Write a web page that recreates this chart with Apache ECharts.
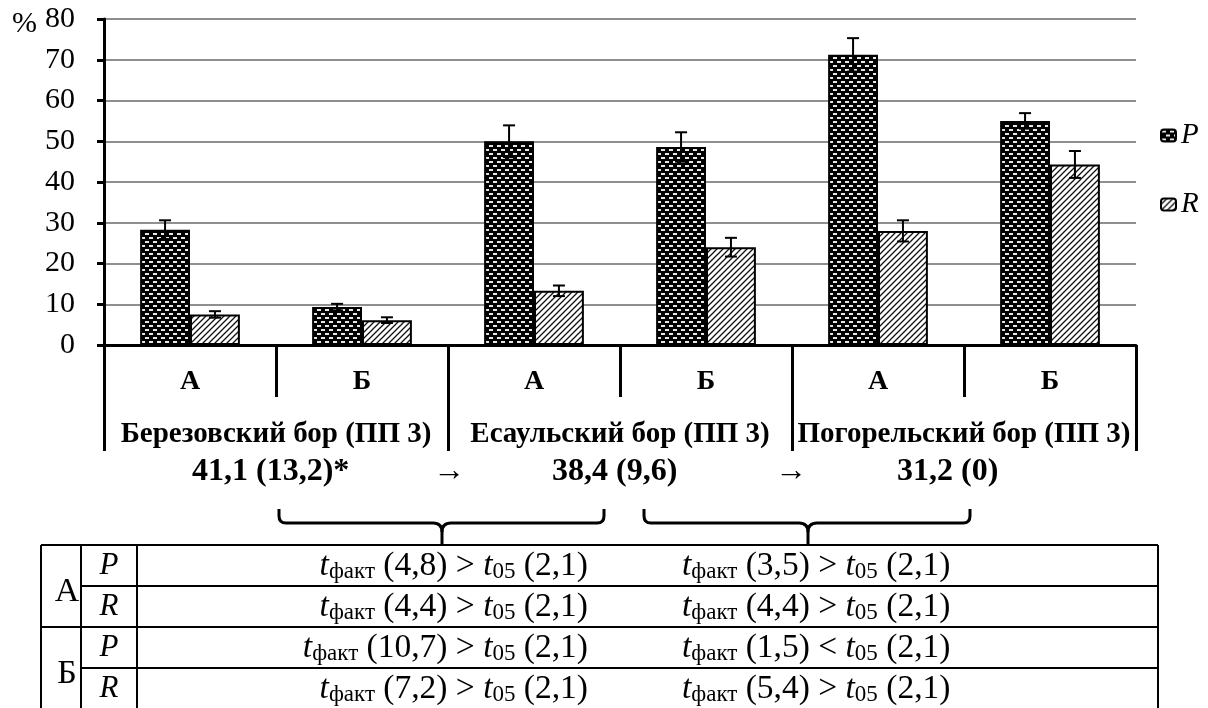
<!DOCTYPE html>
<html>
<head>
<meta charset="utf-8">
<script src="https://cdn.jsdelivr.net/npm/echarts@6/dist/echarts.min.js"></script>
<style>
  html, body { margin: 0; padding: 0; background: #fff; }
  #chart { width: 1208px; height: 708px; }
</style>
</head>
<body>
<div id="chart"></div>
<script>
// Sub-plot categories (lower tier of the x axis) and forest names (upper tier)
const subCategories = ['А', 'Б', 'А', 'Б', 'А', 'Б'];
const forests = ['Березовский бор (ПП 3)', 'Есаульский бор (ПП 3)', 'Погорельский бор (ПП 3)'];

// Series: P and R, percent, with their error half-widths
const seriesNames = ['P', 'R'];
const valuesP = [28.3, 9.3, 50.0, 48.6, 71.2, 55.0];
const errorsP = [2.3, 0.8, 3.9, 3.6, 4.1, 1.9];
const valuesR = [7.5, 6.1, 13.3, 24.0, 28.0, 44.3];
const errorsR = [0.8, 0.7, 1.3, 2.3, 2.6, 3.3];

// Value axis range
const yMin = 0, yMax = 80, yStep = 10;

// Mean values per forest and the arrows between them
const meanLabels = ['41,1 (13,2)*', '38,4 (9,6)', '31,2 (0)'];
const arrowLabel = '→';

// Student's t test table: rows А-P, А-R, Б-P, Б-R; two comparison columns
const tableGroups = ['А', 'Б'];
const tableRowSeries = ['P', 'R', 'P', 'R'];
const tFact = [
  ['4,8', '3,5'],
  ['4,4', '4,4'],
  ['10,7', '1,5'],
  ['7,2', '5,4']
];
const tSign = [
  ['>', '>'],
  ['>', '>'],
  ['>', '<'],
  ['>', '>']
];
const tCritical = '2,1';

const SERIF = '"Liberation Serif", "Times New Roman", serif';
const BAR_FRAC = 0.29;

// Fill patterns for the two series
function makePattern(kind) {
  const c = document.createElement('canvas');
  const g = c.getContext('2d');
  if (kind === 'P') {
    c.width = 8; c.height = 8;
    g.fillStyle = '#000';
    g.fillRect(0, 0, 8, 8);
    g.fillStyle = '#e8e8e8';
    g.fillRect(1, 1, 4, 2);
    g.fillRect(5, 5, 3, 2);
    g.fillRect(0, 5, 1, 2);
  } else {
    c.width = 6; c.height = 6;
    g.fillStyle = '#fff';
    g.fillRect(0, 0, 6, 6);
    g.strokeStyle = '#111';
    g.lineWidth = 1.3;
    g.beginPath();
    g.moveTo(-1, 7); g.lineTo(7, -1);
    g.moveTo(-4, 4); g.lineTo(4, -4);
    g.moveTo(2, 10); g.lineTo(10, 2);
    g.stroke();
  }
  return { image: c, repeat: 'repeat' };
}

function errorSeries(side, values, errors) {
  return {
    type: 'custom',
    name: seriesNames[side] + '-err',
    xAxisIndex: 0,
    z: 5,
    silent: true,
    data: values.map((v, i) => [i, v, errors[i]]),
    renderItem(params, api) {
      const i = api.value(0), v = api.value(1), e = api.value(2);
      const band = api.size([1, 0])[0];
      const off = (side === 0 ? -1 : 1) * band * BAR_FRAC / 2;
      const top = api.coord([i, v + e]);
      const bot = api.coord([i, v - e]);
      const cx = top[0] + off;
      const cap = 6;
      const st = { stroke: '#000', lineWidth: 2 };
      return {
        type: 'group',
        children: [
          { type: 'line', shape: { x1: cx, y1: top[1], x2: cx, y2: bot[1] }, style: st },
          { type: 'line', shape: { x1: cx - cap, y1: top[1], x2: cx + cap, y2: top[1] }, style: st },
          { type: 'line', shape: { x1: cx - cap, y1: bot[1], x2: cx + cap, y2: bot[1] }, style: st }
        ]
      };
    }
  };
}

// Curly brace opening upward with its tip pointing down, built from lines and curves
function braceElements(x1, x2, xm, yTop, yMid, yTip) {
  const r = 7, k = 9;
  const st = { stroke: '#000', lineWidth: 3, fill: null };
  const seg = (a, b, c, d) => ({ type: 'line', shape: { x1: a, y1: b, x2: c, y2: d }, style: st });
  const crv = (a, b, cx, cy, c, d) => ({
    type: 'bezierCurve', shape: { x1: a, y1: b, cpx1: cx, cpy1: cy, x2: c, y2: d }, style: st
  });
  return [
    seg(x1, yTop, x1, yMid - r),
    crv(x1, yMid - r, x1, yMid, x1 + r, yMid),
    seg(x1 + r, yMid, xm - k, yMid),
    crv(xm - k, yMid, xm, yMid, xm, yMid + k),
    seg(xm, yMid + k, xm, yTip),
    seg(x2, yTop, x2, yMid - r),
    crv(x2, yMid - r, x2, yMid, x2 - r, yMid),
    seg(x2 - r, yMid, xm + k, yMid),
    crv(xm + k, yMid, xm, yMid, xm, yMid + k)
  ];
}

function tText(r, c) {
  return '{i|t}{s|факт}{n| (' + tFact[r][c] + ') ' + tSign[r][c] + ' }{i|t}{s|05}{n| (' + tCritical + ')}';
}

const tRich = {
  i: { fontFamily: SERIF, fontSize: 33.5, fontStyle: 'italic', lineHeight: 38, verticalAlign: 'bottom', color: '#000' },
  n: { fontFamily: SERIF, fontSize: 33.5, lineHeight: 38, verticalAlign: 'bottom', color: '#000' },
  s: { fontFamily: SERIF, fontSize: 23, lineHeight: 30, verticalAlign: 'bottom', color: '#000' }
};

// Table geometry
const T = { left: 41, c1: 81, c2: 137, right: 1158, top: 545, rowH: 41, bottom: 712 };

const graphics = [];
// axis unit
graphics.push({ type: 'text', x: 12, y: 24, style: { text: '%', font: '30px ' + SERIF, fill: '#000', verticalAlign: 'middle' } });

// mean values row
const meanY = 472;
const meanItems = [
  [192, meanLabels[0]], [433, arrowLabel], [552, meanLabels[1]], [775, arrowLabel], [897, meanLabels[2]]
];
meanItems.forEach(([x, t]) => {
  graphics.push({
    type: 'text', x: x, y: meanY,
    style: { text: t, font: 'bold 32px ' + SERIF, fill: '#000', verticalAlign: 'middle', align: 'left' }
  });
});

// braces
braceElements(279, 604, 442, 509, 523, 545).forEach(e => graphics.push(e));
braceElements(644, 970, 808, 509, 523, 545).forEach(e => graphics.push(e));

// table lines
const lineSt = { stroke: '#000', lineWidth: 2 };
[0, 1, 2, 3].forEach(k => {
  const y = T.top + k * T.rowH;
  const x1 = (k % 2 === 0) ? T.left : T.c1;
  graphics.push({ type: 'line', shape: { x1: x1, y1: y, x2: T.right, y2: y }, style: lineSt });
});
[T.left, T.c1, T.c2, T.right].forEach(x => {
  graphics.push({ type: 'line', shape: { x1: x, y1: T.top, x2: x, y2: T.bottom }, style: lineSt });
});
// group letters
tableGroups.forEach((g, k) => {
  graphics.push({
    type: 'text', x: 67, y: T.top + (2 * k + 1) * T.rowH + 6,
    style: { text: g, font: '34px ' + SERIF, fill: '#000', align: 'center', verticalAlign: 'middle' }
  });
});
// rows
tableRowSeries.forEach((s, r) => {
  const yc = T.top + r * T.rowH + T.rowH / 2;
  graphics.push({
    type: 'text', x: 109, y: yc,
    style: { text: s, font: 'italic 31px ' + SERIF, fill: '#000', align: 'center', verticalAlign: 'middle' }
  });
  graphics.push({
    type: 'text', x: 588, y: yc - 1,
    style: { text: tText(r, 0), rich: tRich, align: 'right', verticalAlign: 'middle' }
  });
  graphics.push({
    type: 'text', x: 682, y: yc - 1,
    style: { text: tText(r, 1), rich: tRich, align: 'left', verticalAlign: 'middle' }
  });
});

const chart = echarts.init(document.getElementById('chart'), null, { renderer: 'canvas' });
chart.setOption({
  animation: false,
  backgroundColor: '#fff',
  grid: { left: 104, right: 72, top: 19, bottom: 363, containLabel: false },
  legend: {
    data: seriesNames,
    orient: 'vertical',
    left: 1155,
    top: 116,
    itemWidth: 15,
    itemHeight: 12,
    itemGap: 40,
    selectedMode: false,
    textStyle: { fontFamily: SERIF, fontSize: 29, fontStyle: 'italic', color: '#000' }
  },
  xAxis: [
    {
      type: 'category',
      data: subCategories,
      position: 'bottom',
      boundaryGap: true,
      axisLine: { show: true, lineStyle: { color: '#000', width: 3 } },
      axisTick: { show: true, length: 52, lineStyle: { color: '#000', width: 3 } },
      axisLabel: { interval: 0, margin: 23, fontFamily: SERIF, fontWeight: 'bold', fontSize: 28, color: '#000' },
      splitLine: { show: false }
    },
    {
      type: 'category',
      data: forests,
      position: 'bottom',
      boundaryGap: true,
      axisLine: { show: false },
      axisTick: { show: true, length: 106, lineStyle: { color: '#000', width: 3 } },
      axisLabel: { interval: 0, margin: 75, fontFamily: SERIF, fontWeight: 'bold', fontSize: 29, color: '#000' },
      splitLine: { show: false }
    }
  ],
  yAxis: {
    type: 'value',
    min: yMin, max: yMax, interval: yStep,
    axisLine: { show: true, lineStyle: { color: '#000', width: 3 } },
    axisTick: { show: true, inside: false, length: 7, lineStyle: { color: '#000', width: 3 } },
    axisLabel: { margin: 29, fontFamily: SERIF, fontSize: 30, color: '#000' },
    splitLine: { show: true, lineStyle: { color: '#8f8f8f', width: 2 } }
  },
  series: [
    {
      name: seriesNames[0], type: 'bar', xAxisIndex: 0, data: valuesP,
      barWidth: (BAR_FRAC * 100) + '%', barGap: '0%',
      itemStyle: { color: makePattern('P'), borderColor: '#000', borderWidth: 2 }
    },
    {
      name: seriesNames[1], type: 'bar', xAxisIndex: 0, data: valuesR,
      barWidth: (BAR_FRAC * 100) + '%', barGap: '0%',
      itemStyle: { color: makePattern('R'), borderColor: '#000', borderWidth: 2 }
    },
    errorSeries(0, valuesP, errorsP),
    errorSeries(1, valuesR, errorsR)
  ],
  graphic: graphics
});
</script>
</body>
</html>
